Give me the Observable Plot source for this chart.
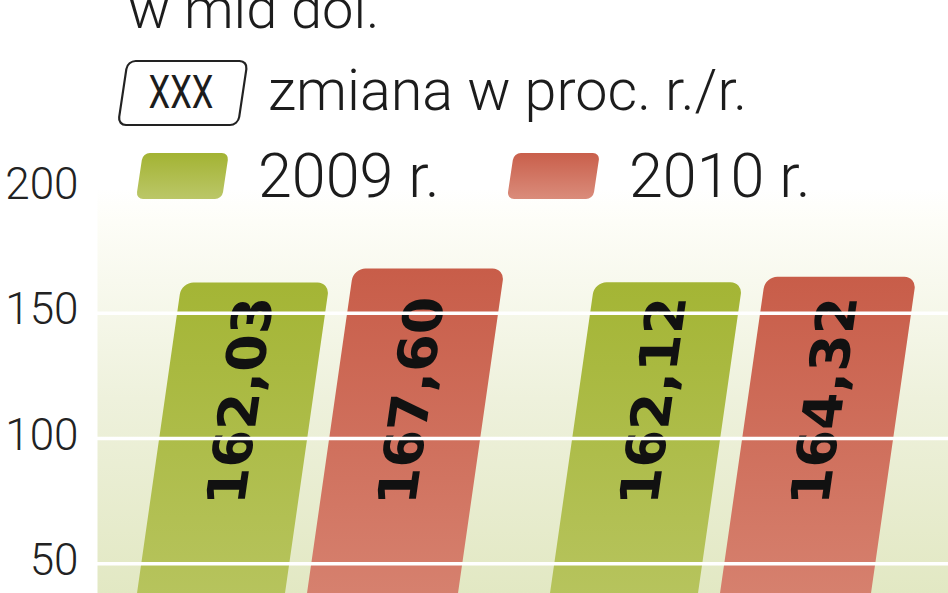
<!DOCTYPE html>
<html><head><meta charset="utf-8">
<script src="https://cdn.jsdelivr.net/npm/d3@7"></script>
<script src="https://cdn.jsdelivr.net/npm/@observablehq/plot@0.6"></script>
<style>
html,body{margin:0;padding:0;background:#fff;overflow:hidden}
#wrap{position:relative;width:948px;height:593px;overflow:hidden;background:#fff}
#wrap svg{position:absolute;left:0;top:0}
</style></head><body><div id="wrap"></div>
<script>
// ---- data ----
const groups = ["I", "II"];
const years = ["2009 r.", "2010 r."];
const values2009 = [162.03, 162.12];
const values2010 = [167.60, 164.32];
const yTicks = [50, 100, 150, 200];
const unitText = "w mld dol.";
const changeText = "zmiana w proc. r./r.";
const changePlaceholder = "XXX";

const rows = groups.flatMap((g, i) => [
  {group: g, year: years[0], value: values2009[i]},
  {group: g, year: years[1], value: values2010[i]}
]);
const d2009 = rows.filter(d => d.year === years[0]);
const d2010 = rows.filter(d => d.year === years[1]);
const fmt = v => v.toFixed(2).replace(".", ",");

const FONT = "Roboto, 'Noto Sans', sans-serif";
const INK = "#1c1c1c";
const skewDeg = 8.15, k = Math.tan(skewDeg * Math.PI / 180), y0 = 300;

const chart = Plot.plot({
  width: 948, height: 700,
  marginLeft: 97, marginRight: 0, marginTop: 187.4, marginBottom: 11.4,
  style: {background: "transparent", fontFamily: FONT, overflow: "visible"},
  x: {domain: groups, paddingInner: 0.2228, paddingOuter: 0.1416, align: 0.7, axis: null},
  y: {domain: [0, 200], label: null},
  marks: [
    Plot.frame({fill: "url(#bgGrad)", stroke: "none"}),
    Plot.barY(d2009, {x: "group", y: "value", fill: "url(#g2009)", insetRight: 173, rx: 12}),
    Plot.barY(d2010, {x: "group", y: "value", fill: "url(#g2010)", insetLeft: 170, rx: 12}),
    Plot.text(d2009, {x: "group", y: 115, text: d => fmt(d.value), rotate: -90, dx: -84,
      fontSize: 54, fontWeight: "bold", fontFamily: "'DejaVu Sans', sans-serif", fill: "#111"}),
    Plot.text(d2010, {x: "group", y: 115, text: d => fmt(d.value), rotate: -90, dx: 87,
      fontSize: 54, fontWeight: "bold", fontFamily: "'DejaVu Sans', sans-serif", fill: "#111"}),
    Plot.gridY(yTicks, {stroke: "#ffffff", strokeOpacity: 1, strokeWidth: 3.5}),
    Plot.axisY(yTicks, {tickSize: 0, tickPadding: 19, fontSize: 44, fontWeight: 300,
      fontFamily: FONT, fill: "#222", dy: -3, label: null})
  ]
});

const cs = d3.select(chart);
const defs = cs.insert("defs", ":first-child");
function vgrad(sel, id, stops) {
  const g = sel.append("linearGradient").attr("id", id).attr("x1", 0).attr("y1", 0).attr("x2", 0).attr("y2", 1);
  stops.forEach(([o, c]) => g.append("stop").attr("offset", o).attr("stop-color", c));
}
vgrad(defs, "bgGrad", [[0, "#ffffff"], [0.07, "#fdfdf7"], [0.42, "#eef1dc"], [0.81, "#e2e8c3"], [1, "#dde4bb"]]);
vgrad(defs, "g2009", [[0, "#a4b535"], [1, "#bcc869"]]);
vgrad(defs, "g2010", [[0, "#c85d49"], [1, "#da8b79"]]);

cs.selectAll('g[aria-label="bar"], g[aria-label="text"]').each(function () {
  const t = this.getAttribute("transform") || "";
  this.setAttribute("transform", `translate(${k * y0},0) skewX(${-skewDeg}) ${t}`);
});

document.getElementById("wrap").appendChild(chart);

// ---- legend / header ----
const leg = d3.select("#wrap").append("svg").attr("width", 948).attr("height", 230)
  .style("font-family", FONT).style("font-weight", 300).style("overflow", "visible");
const ldefs = leg.append("defs");
vgrad(ldefs, "l2009", [[0, "#a3b333"], [1, "#bbc768"]]);
vgrad(ldefs, "l2010", [[0, "#c95f4b"], [1, "#da8c7b"]]);
const legDeg = 8.5;

leg.append("text").attr("x", 128).attr("y", 28).attr("font-size", 56).attr("fill", INK).text(unitText);

const box = leg.append("g").attr("transform", `translate(118,125) skewX(${-legDeg})`);
box.append("rect").attr("x", 0).attr("y", -64).attr("width", 120).attr("height", 64).attr("rx", 8)
  .attr("fill", "#fff").attr("stroke", "#222").attr("stroke-width", 2.2);
leg.append("text").attr("transform", "translate(181,108) scale(0.75,1)").attr("text-anchor", "middle")
  .attr("font-size", 46).attr("font-weight", 400).attr("fill", INK).text(changePlaceholder);
leg.append("text").attr("x", 268).attr("y", 110).attr("font-size", 57.5).attr("fill", INK).text(changeText);

years.forEach((yr, i) => {
  const bx = 136 + i * 371;
  const g = leg.append("g").attr("transform", `translate(${bx},199) skewX(${-legDeg})`);
  g.append("rect").attr("x", 0).attr("y", -46).attr("width", 86).attr("height", 46).attr("rx", 7)
    .attr("fill", `url(#l${yr.slice(0, 4)})`);
  leg.append("text").attr("x", bx + 122).attr("y", 197).attr("font-size", 61).attr("fill", INK).text(yr);
});
</script></body></html>
